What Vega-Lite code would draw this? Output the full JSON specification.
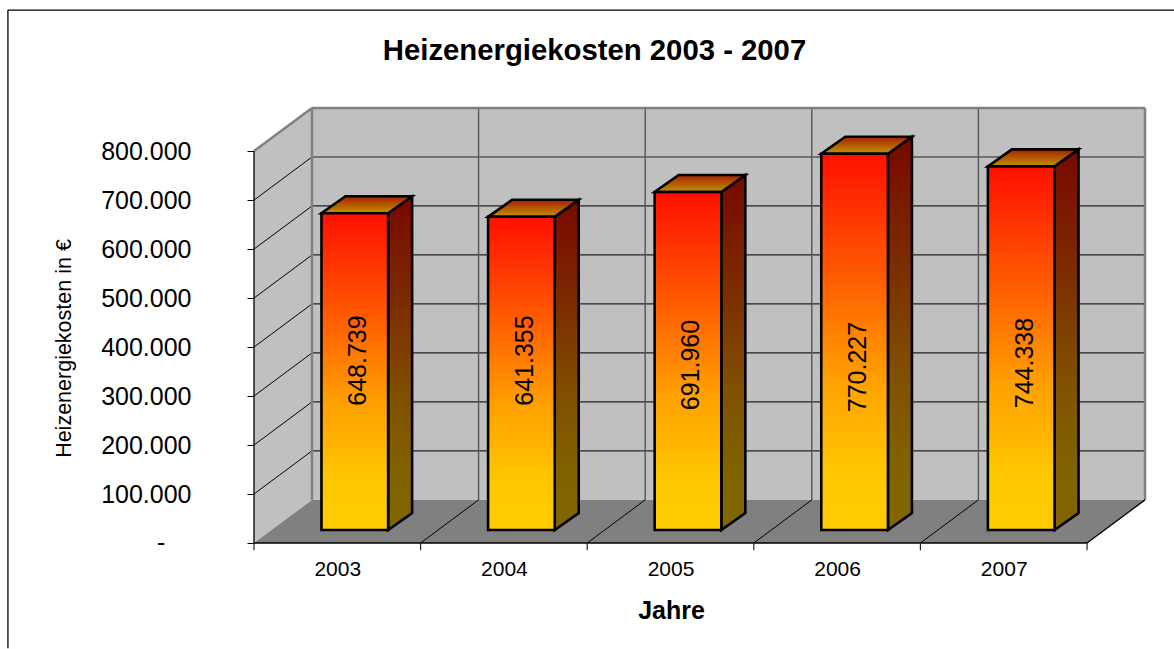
{
"$schema":"https://vega.github.io/schema/vega-lite/v6.json",
"width":891,"height":435,
"autosize":{"type":"none"},
"padding":{"left":254,"top":108,"right":29,"bottom":106},
"background":"white",
"config":{"view":{"stroke":null},"font":"Liberation Sans"},
"title":{"text":"Heizenergiekosten 2003 - 2007","fontSize":29.3,"fontWeight":"bold","font":"Liberation Sans","color":"black","anchor":"middle","dx":-105,"offset":-57},
"datasets":{
"bars":[{"year":2003,"value":648739},{"year":2004,"value":641355},{"year":2005,"value":691960},{"year":2006,"value":770227},{"year":2007,"value":744338}],
"levels":[{"level":100000},{"level":200000},{"level":300000},{"level":400000},{"level":500000},{"level":600000},{"level":700000},{"level":800000}],
"slots":[{"slot":1},{"slot":2},{"slot":3},{"slot":4}],
"ticks":[{"slot":0},{"slot":1},{"slot":2},{"slot":3},{"slot":4},{"slot":5}],
"zeroLabel":[{"x":-0.558,"y":0,"label":"-"}],
"frame":[{"x":-1.477,"x2":-1.477,"y":-215000,"y2":1088000},{"x":-1.477,"x2":5.53,"y":1088000,"y2":1088000}],
"grayEdges":[{"x":0.348,"x2":0.348,"y":88000,"y2":888000},{"x":5.348,"x2":5.348,"y":88000,"y2":888000},{"x":0.348,"x2":5.348,"y":888000,"y2":888000},{"x":0,"x2":0.348,"y":800000,"y2":888000}],
"blackEdges":[{"x":0,"x2":0,"y":0,"y2":800000},{"x":0,"x2":5,"y":0,"y2":0},{"x":5,"x2":5.348,"y":0,"y2":88000}],
"leftWall":[{"x":0,"y":800000,"y2":0},{"x":0.348,"y":888000,"y2":88000}],
"floor":[{"x":0,"x2":5,"y":0},{"x":0.348,"x2":5.348,"y":88000}],
"backWall":[{"x":0.348,"x2":5.348,"y":88000,"y2":888000}]
},
"encoding":{
"x":{"field":"x","type":"quantitative","scale":{"domain":[0,5.348],"range":[0,891],"nice":false,"zero":false},
"axis":{"values":[0.5,1.5,2.5,3.5,4.5],"labelExpr":"datum.value+2002.5","ticks":false,"domain":false,"grid":false,"labelFontSize":21,"labelColor":"black","labelPadding":15,"title":"Jahre","titleFontSize":25,"titleFontWeight":"bold","titleColor":"black","titleX":417,"titleY":55,"labelFlush":false}},
"y":{"field":"y","type":"quantitative","scale":{"domain":[0,888000],"nice":false,"zero":false},
"axis":{"values":[0,100000,200000,300000,400000,500000,600000,700000,800000],"labelExpr":"datum.value==0 ? '' : replace(format(datum.value,','),',','.')","domain":false,"grid":false,"tickSize":7,"tickColor":"black","labelFontSize":25,"labelColor":"black","labelPadding":56,"title":"Heizenergiekosten in €","titleFontSize":21.5,"titleFontWeight":"normal","titleColor":"black","titleX":-179,"titleY":240}}
},
"layer":[
{"data":{"name":"frame"},"mark":{"type":"rule","color":"black","strokeWidth":1.3},"encoding":{"x2":{"field":"x2"},"y2":{"field":"y2"}}},
{"data":{"name":"backWall"},"mark":{"type":"rect","fill":"#c0c0c0"},"encoding":{"x2":{"field":"x2"},"y2":{"field":"y2"}}},
{"data":{"name":"leftWall"},"mark":{"type":"area","fill":"#c0c0c0"},"encoding":{"y2":{"field":"y2"}}},
{"data":{"name":"floor"},"mark":{"type":"area","fill":"#808080","orient":"horizontal"},"encoding":{"x2":{"field":"x2"}}},
{"data":{"name":"levels"},"transform":[{"calculate":"0","as":"x"},{"calculate":"0.348","as":"x2"},{"calculate":"datum.level","as":"y"},{"calculate":"datum.level+88000","as":"y2"},{"filter":"datum.level<800000"}],"mark":{"type":"rule","color":"#000000","strokeWidth":1},"encoding":{"x2":{"field":"x2"},"y2":{"field":"y2"}}},
{"data":{"name":"levels"},"transform":[{"calculate":"0.348","as":"x"},{"calculate":"5.348","as":"x2"},{"calculate":"datum.level+88000","as":"y"},{"calculate":"datum.level+88000","as":"y2"}],"mark":{"type":"rule","color":"#222222","strokeWidth":1.2},"encoding":{"x2":{"field":"x2"},"y2":{"field":"y2"}}},
{"data":{"name":"slots"},"transform":[{"calculate":"datum.slot+0.348","as":"x"},{"calculate":"datum.slot+0.348","as":"x2"},{"calculate":"88000","as":"y"},{"calculate":"888000","as":"y2"}],"mark":{"type":"rule","color":"#555555","strokeWidth":1.4},"encoding":{"x2":{"field":"x2"},"y2":{"field":"y2"}}},
{"data":{"name":"slots"},"transform":[{"calculate":"datum.slot","as":"x"},{"calculate":"datum.slot+0.348","as":"x2"},{"calculate":"0","as":"y"},{"calculate":"88000","as":"y2"}],"mark":{"type":"rule","color":"#000000","strokeWidth":1},"encoding":{"x2":{"field":"x2"},"y2":{"field":"y2"}}},
{"data":{"name":"grayEdges"},"mark":{"type":"rule","color":"#808080","strokeWidth":2.5},"encoding":{"x2":{"field":"x2"},"y2":{"field":"y2"}}},
{"data":{"name":"blackEdges"},"mark":{"type":"rule","color":"black","strokeWidth":1.3},"encoding":{"x2":{"field":"x2"},"y2":{"field":"y2"}}},
{"data":{"name":"ticks"},"transform":[{"calculate":"datum.slot","as":"x"},{"calculate":"datum.slot","as":"x2"},{"calculate":"0","as":"y"},{"calculate":"-15000","as":"y2"}],"mark":{"type":"rule","color":"#222222","strokeWidth":1.2},"encoding":{"x2":{"field":"x2"},"y2":{"field":"y2"}}},
{"data":{"name":"zeroLabel"},"mark":{"type":"text","align":"center","baseline":"middle","fontSize":25,"color":"black","clip":false},"encoding":{"text":{"field":"label","type":"nominal"}}},
{"data":{"name":"bars"},"transform":[
{"calculate":"datum.year-2003+0.805","as":"xa"},{"calculate":"datum.xa+0.144","as":"xb"},
{"fold":["xa","xb"],"as":["edge","x"]},
{"calculate":"datum.value+24500+(datum.edge=='xb'?34700:0)","as":"y"},
{"calculate":"26500+(datum.edge=='xb'?34700:0)","as":"y2"}],
"mark":{"type":"area","stroke":"black","strokeWidth":2.6,"strokeJoin":"miter","fill":{"gradient":"linear","x1":0,"y1":0,"x2":0,"y2":1,"stops":[{"offset":0,"color":"#780800"},{"offset":0.3,"color":"#7c2a00"},{"offset":0.6,"color":"#805000"},{"offset":0.85,"color":"#806400"},{"offset":1,"color":"#806600"}]}},
"encoding":{"y2":{"field":"y2"},"detail":{"field":"year"}}},
{"data":{"name":"bars"},"transform":[
{"calculate":"datum.year-2003+0.405","as":"xa"},{"calculate":"datum.xa+0.144","as":"xb"},
{"fold":["xa","xb"],"as":["edge","x"]},
{"calculate":"datum.x+0.4","as":"x2"},
{"calculate":"datum.value+24500+(datum.edge=='xb'?34700:0)","as":"y"}],
"mark":{"type":"area","orient":"horizontal","stroke":"black","strokeWidth":2.6,"strokeJoin":"miter","fill":{"gradient":"linear","x1":0,"y1":0,"x2":0,"y2":1,"stops":[{"offset":0,"color":"#a82000"},{"offset":1,"color":"#c09400"}]}},
"encoding":{"x2":{"field":"x2"},"detail":{"field":"year"}}},
{"data":{"name":"bars"},"transform":[
{"calculate":"datum.year-2003+0.405","as":"x"},{"calculate":"datum.x+0.4","as":"x2"},
{"calculate":"datum.value+24500","as":"y"},{"calculate":"26500","as":"y2"}],
"mark":{"type":"rect","stroke":"black","strokeWidth":2.6,"fill":{"gradient":"linear","x1":0,"y1":0,"x2":0,"y2":1,"stops":[{"offset":0,"color":"#ff1000"},{"offset":0.3,"color":"#ff5500"},{"offset":0.6,"color":"#ffa000"},{"offset":0.85,"color":"#ffc800"},{"offset":1,"color":"#ffcc00"}]}},
"encoding":{"x2":{"field":"x2"},"y2":{"field":"y2"}}},
{"data":{"name":"bars"},"transform":[
{"calculate":"datum.year-2003+0.625","as":"x"},
{"calculate":"(543.5-(datum.year==2003?361:datum.year==2004?361:datum.year==2005?365.5:datum.year==2006?367.5:363.5))/0.00049","as":"y"},
{"calculate":"replace(format(datum.value,','),',','.')","as":"label"}],
"mark":{"type":"text","angle":270,"align":"center","baseline":"middle","fontSize":25,"color":"black"},
"encoding":{"text":{"field":"label","type":"nominal"}}}
]
}
